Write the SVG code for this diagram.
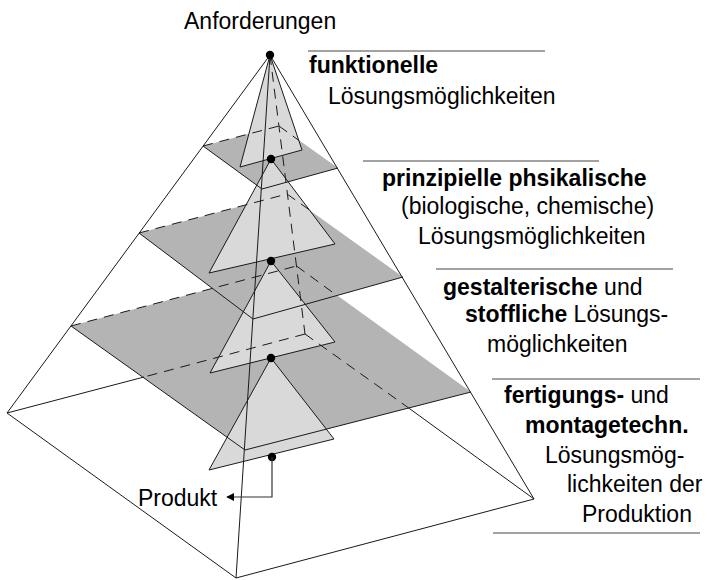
<svg xmlns="http://www.w3.org/2000/svg" width="707" height="580" viewBox="0 0 707 580">
  <defs>
    <style>
      .plane { fill: #b4b4b4; stroke: none; }
      .sub { fill: #d9d9d9; stroke: #1a1a1a; stroke-width: 1; stroke-linejoin: round; }
      .edge { fill: none; stroke: #1a1a1a; stroke-width: 1; }
      .hidden { fill: none; stroke: #1a1a1a; stroke-width: 1; stroke-dasharray: 10 7; }
      .rule { stroke: #444; stroke-width: 1; }
      .dot { fill: #000; }
      .label { font-family: "Liberation Sans", Arial, sans-serif; font-size: 23px; fill: #000; }
      .b { font-weight: bold; }
      .conn { fill: none; stroke: #333; stroke-width: 1.2; }
    </style>
    <marker id="arrowhead" viewBox="0 0 10 10" refX="9" refY="5" markerWidth="8" markerHeight="8" markerUnits="userSpaceOnUse" orient="auto">
      <path d="M0,0 L10,5 L0,10 Z" fill="#000"/>
    </marker>
  </defs>
  <rect width="707" height="580" fill="#fff"/>

  <!-- horizontal cut planes through the pyramid -->
  <g id="plane-3"><polygon class="plane" points="71,326 296.5,266 471,392 245,450"/></g>
  <g id="plane-2"><polygon class="plane" points="139,233 287,194 403,277 253,319"/></g>
  <g id="plane-1"><polygon class="plane" points="203,146 279,126 338,168 262,189"/></g>

  <!-- nested sub-pyramids (solution levels) -->
  <g id="sub-pyramid-1"><polygon class="sub" points="270,55 240,167 302,150"/></g>
  <g id="sub-pyramid-2"><polygon class="sub" points="271,159 209,273 335,244"/></g>
  <g id="sub-pyramid-3"><polygon class="sub" points="271,261 210,373 335,342"/></g>
  <g id="sub-pyramid-4"><polygon class="sub" points="271,358 209,470 334,439"/></g>

  <!-- hidden edges -->
  <g id="hidden-edges">
    <line class="hidden" x1="270" y1="55" x2="305" y2="334"/>
    <line class="hidden" x1="305" y1="334" x2="144" y2="377"/>
    <line class="hidden" x1="305" y1="334" x2="408" y2="407.5"/>
    <line class="hidden" x1="203" y1="146" x2="279" y2="126"/>
    <line class="hidden" x1="279" y1="126" x2="299" y2="140.5"/>
    <line class="hidden" x1="139" y1="233" x2="287" y2="194"/>
    <line class="hidden" x1="287" y1="194" x2="309.5" y2="210"/>
    <line class="hidden" x1="71" y1="326" x2="296.5" y2="266"/>
    <line class="hidden" x1="296.5" y1="266" x2="337" y2="295.5"/>
  </g>

  <!-- visible edges: front edges of the planes and the outer pyramid -->
  <g id="plane-edges">
    <polyline class="edge" points="203,146 262,189 338,168"/>
    <polyline class="edge" points="139,233 253,319 403,277"/>
    <polyline class="edge" points="71,326 245,450 471,392"/>
  </g>
  <g id="outer-pyramid">
    <line class="edge" x1="270" y1="55" x2="7" y2="413"/>
    <line class="edge" x1="270" y1="55" x2="236" y2="578"/>
    <line class="edge" x1="270" y1="55" x2="534" y2="499"/>
    <polyline class="edge" points="144,377 7,413 236,578 534,499 408,407.5"/>
  </g>

  <!-- apex points -->
  <g id="points">
    <circle class="dot" cx="270" cy="55" r="4.2"/>
    <circle class="dot" cx="271" cy="159" r="4.2"/>
    <circle class="dot" cx="271" cy="261" r="4.2"/>
    <circle class="dot" cx="271" cy="358" r="4.2"/>
    <circle class="dot" cx="272" cy="457" r="4.2"/>
  </g>

  <!-- connector to the product label -->
  <g id="connectors">
    <path class="conn" d="M272,457 V497 H227" marker-end="url(#arrowhead)"/>
  </g>

  <!-- labels -->
  <g id="labels">
    <text class="label" x="184" y="29">Anforderungen</text>
    <text class="label" x="138" y="506">Produkt</text>

    <line class="rule" x1="308" y1="51" x2="545" y2="51"/>
    <text class="label" x="309" y="73"><tspan class="b">funktionelle</tspan></text>
    <text class="label" x="328" y="104">Lösungsmöglichkeiten</text>

    <line class="rule" x1="363" y1="161" x2="599" y2="161"/>
    <text class="label" x="382" y="186"><tspan class="b">prinzipielle phsikalische</tspan></text>
    <text class="label" x="401" y="214">(biologische, chemische)</text>
    <text class="label" x="418" y="244">Lösungsmöglichkeiten</text>

    <line class="rule" x1="436" y1="269" x2="673" y2="269"/>
    <text class="label" x="443" y="295"><tspan class="b">gestalterische</tspan> und</text>
    <text class="label" x="465" y="322"><tspan class="b">stoffliche</tspan> Lösungs-</text>
    <text class="label" x="487" y="352">möglichkeiten</text>

    <line class="rule" x1="492" y1="379" x2="700" y2="379"/>
    <text class="label" x="504" y="403"><tspan class="b">fertigungs-</tspan> und</text>
    <text class="label" x="525" y="433"><tspan class="b">montagetechn.</tspan></text>
    <text class="label" x="545" y="463">Lösungsmög-</text>
    <text class="label" x="567" y="492">lichkeiten der</text>
    <text class="label" x="582" y="522">Produktion</text>
    <line class="rule" x1="493" y1="533" x2="700" y2="533"/>
  </g>
</svg>
